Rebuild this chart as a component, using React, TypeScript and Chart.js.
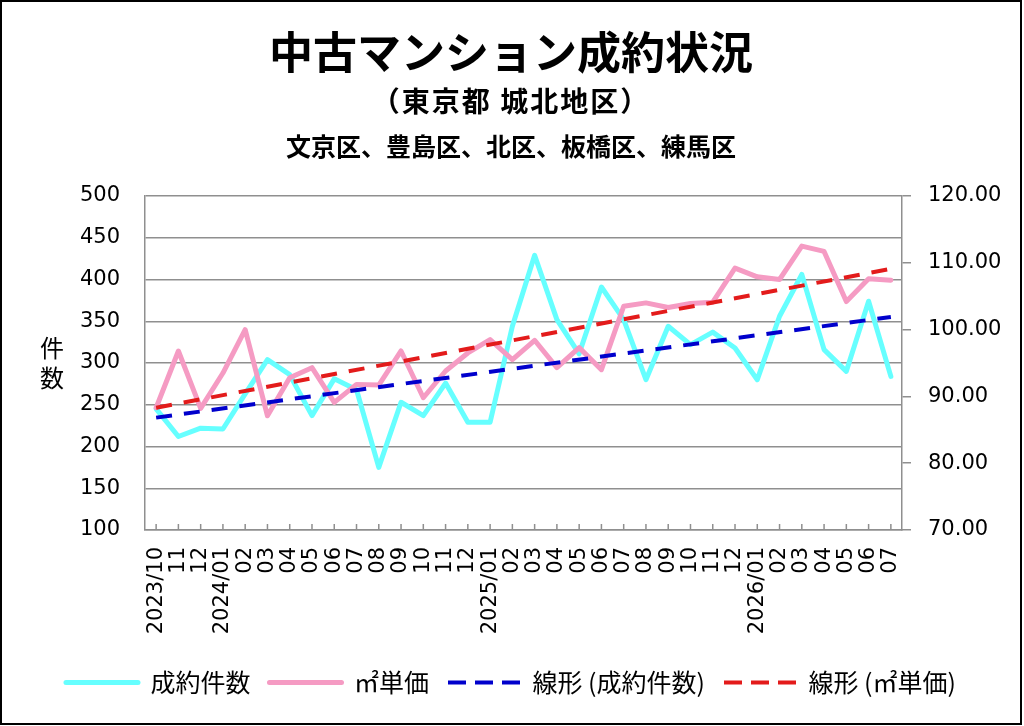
import { useEffect, useRef } from "react"
import { Chart, registerables } from "chart.js"

Chart.register(...registerables)

const titleText = "中古マンション成約状況"
const subtitleText = "（東京都 城北地区）"
const areaText = "文京区、豊島区、北区、板橋区、練馬区"

const months = [
  "2023/10", "11", "12",
  "2024/01", "02", "03", "04", "05", "06", "07", "08", "09", "10", "11", "12",
  "2025/01", "02", "03", "04", "05", "06", "07", "08", "09", "10", "11", "12",
  "2026/01", "02", "03", "04", "05", "06", "07",
]

// 成約件数 (left axis)
const contracts = [
  245, 212, 222, 221, 263, 304, 286, 237, 281, 268, 175, 253, 237, 276, 229, 229,
  344, 429, 352, 311, 391, 352, 280, 344, 322, 337, 318, 280, 356, 406, 316, 290,
  374, 284,
]

// ㎡単価 (right axis, 万円)
const unitPrice = [
  88.3, 96.8, 88.2, 93.5, 100.0, 87.1, 92.8, 94.3, 89.1, 91.8, 91.7, 96.8, 89.8,
  93.8, 96.5, 98.5, 95.5, 98.4, 94.3, 97.3, 94.0, 103.5, 104.0, 103.3, 103.9,
  104.1, 109.2, 107.9, 107.5, 112.5, 111.7, 104.2, 107.6, 107.4,
]

// trend line ends
const contractsTrend = [234.6, 355.2]
const unitPriceTrend = [88.3, 109.1]

const leftTicks = { min: 100, max: 500, step: 50 }
const rightTicks = { min: 70, max: 120, step: 10 }

const gridColor = "#8f8f8f"
const jpFont = "'Noto Sans CJK JP', sans-serif"
const numFont = "'DejaVu Sans', sans-serif"

const ends = (pair: number[]) =>
  months.map((_, i) => (i === 0 ? pair[0] : i === months.length - 1 ? pair[1] : null))

const decorPlugin = {
  id: "decor",
  afterDraw(chart: any) {
    const { ctx, chartArea } = chart
    ctx.save()
    ctx.fillStyle = "#000"
    ctx.textAlign = "center"
    ctx.textBaseline = "middle"
    const cx = chart.width / 2
    ctx.font = `bold 44px ${jpFont}`
    ctx.fillText(titleText, cx, 50)
    ctx.font = `bold 28px ${jpFont}`
    ctx.letterSpacing = "2px"
    ctx.fillText(subtitleText, cx, 99)
    ctx.letterSpacing = "0px"
    ctx.font = `bold 25px ${jpFont}`
    ctx.fillText(areaText, cx, 144)

    // stacked axis title
    ctx.font = `24px ${jpFont}`
    ctx.fillText("件", 50, 346)
    ctx.fillText("数", 50, 376)

    // short inward tick marks on the category axis
    const xs = chart.scales.x
    ctx.strokeStyle = gridColor
    ctx.lineWidth = 1.5
    ctx.beginPath()
    months.forEach((_, i) => {
      const px = xs.getPixelForTick(i)
      ctx.moveTo(px, chartArea.bottom)
      ctx.lineTo(px, chartArea.bottom - 6)
    })
    ctx.stroke()
    ctx.restore()
  },
}

export default function App() {
  const chartRef = useRef<HTMLCanvasElement>(null)
  const chartInstance = useRef<Chart | null>(null)

  useEffect(() => {
    if (!chartRef.current) return
    if (chartInstance.current) {
      chartInstance.current.destroy()
    }
    const ctx = chartRef.current.getContext("2d")
    if (!ctx) return

    const baseLabels = Chart.defaults.plugins.legend.labels.generateLabels

    chartInstance.current = new Chart(ctx, {
      type: "line",
      data: {
        labels: months,
        datasets: [
          {
            label: "成約件数",
            data: contracts,
            yAxisID: "y",
            borderColor: "#66ffff",
            backgroundColor: "#66ffff",
            borderWidth: 5,
            borderJoinStyle: "round",
            borderCapStyle: "round",
            pointRadius: 0,
            order: 4,
          },
          {
            label: "㎡単価",
            data: unitPrice,
            yAxisID: "y1",
            borderColor: "#f59bc3",
            backgroundColor: "#f59bc3",
            borderWidth: 5,
            borderJoinStyle: "round",
            borderCapStyle: "round",
            pointRadius: 0,
            order: 3,
          },
          {
            label: "線形 (成約件数)",
            data: ends(contractsTrend),
            yAxisID: "y",
            borderColor: "#0000cc",
            backgroundColor: "#0000cc",
            borderWidth: 4,
            borderDash: [16, 12],
            spanGaps: true,
            pointRadius: 0,
            order: 2,
          },
          {
            label: "線形 (㎡単価)",
            data: ends(unitPriceTrend),
            yAxisID: "y1",
            borderColor: "#e31b1b",
            backgroundColor: "#e31b1b",
            borderWidth: 4,
            borderDash: [16, 12],
            spanGaps: true,
            pointRadius: 0,
            order: 1,
          },
        ],
      },
      options: {
        responsive: false,
        animation: false,
        layout: { padding: { top: 194, left: 0, right: 0, bottom: 18 } },
        scales: {
          x: {
            offset: true,
            grid: { drawOnChartArea: false, drawTicks: false },
            border: { color: gridColor, width: 1.5 },
            ticks: {
              autoSkip: false,
              minRotation: 90,
              maxRotation: 90,
              padding: 17,
              color: "#000",
              font: { family: numFont, size: 21 },
            },
            afterFit: (scale: any) => {
              scale.height = 121
            },
          },
          y: {
            position: "left",
            min: leftTicks.min,
            max: leftTicks.max,
            grid: { color: gridColor, lineWidth: 1.5, drawTicks: false },
            border: { color: gridColor, width: 1.5 },
            ticks: {
              stepSize: leftTicks.step,
              padding: 25,
              color: "#000",
              font: { family: numFont, size: 21 },
            },
            afterFit: (scale: any) => {
              scale.width = 143
            },
          },
          y1: {
            position: "right",
            min: rightTicks.min,
            max: rightTicks.max,
            grid: {
              drawOnChartArea: false,
              drawTicks: true,
              tickLength: 9,
              color: gridColor,
              lineWidth: 1.5,
            },
            border: { color: gridColor, width: 1.5 },
            ticks: {
              stepSize: rightTicks.step,
              padding: 17,
              color: "#000",
              font: { family: numFont, size: 21 },
              callback: (v: any) => Number(v).toFixed(2),
            },
            afterFit: (scale: any) => {
              scale.width = 118
            },
          },
        },
        plugins: {
          title: { display: false },
          tooltip: { enabled: false },
          legend: {
            position: "bottom",
            labels: {
              usePointStyle: true,
              pointStyle: "line",
              pointStyleWidth: 72,
              padding: 19,
              color: "#000",
              font: { family: jpFont, size: 25 },
              sort: (a: any, b: any) => a.datasetIndex - b.datasetIndex,
              generateLabels: (chart: any) =>
                baseLabels(chart).map((item: any) => {
                  const ds = chart.data.datasets[item.datasetIndex]
                  const dashed = !!ds.borderDash
                  return {
                    ...item,
                    strokeStyle: ds.borderColor,
                    lineWidth: ds.borderWidth,
                    lineDash: dashed ? [18, 9] : [],
                    lineCap: dashed ? "butt" : "round",
                  }
                }),
            },
          },
        },
      },
      plugins: [decorPlugin],
    })

    return () => {
      if (chartInstance.current) {
        chartInstance.current.destroy()
        chartInstance.current = null
      }
    }
  }, [])

  return (
    <div
      style={{
        position: "absolute",
        left: 0,
        top: 0,
        width: 1022,
        height: 725,
        boxSizing: "border-box",
        border: "2px solid #000",
        background: "#fff",
      }}
    >
      <canvas ref={chartRef} width={1018} height={721} style={{ display: "block" }} />
    </div>
  )
}
